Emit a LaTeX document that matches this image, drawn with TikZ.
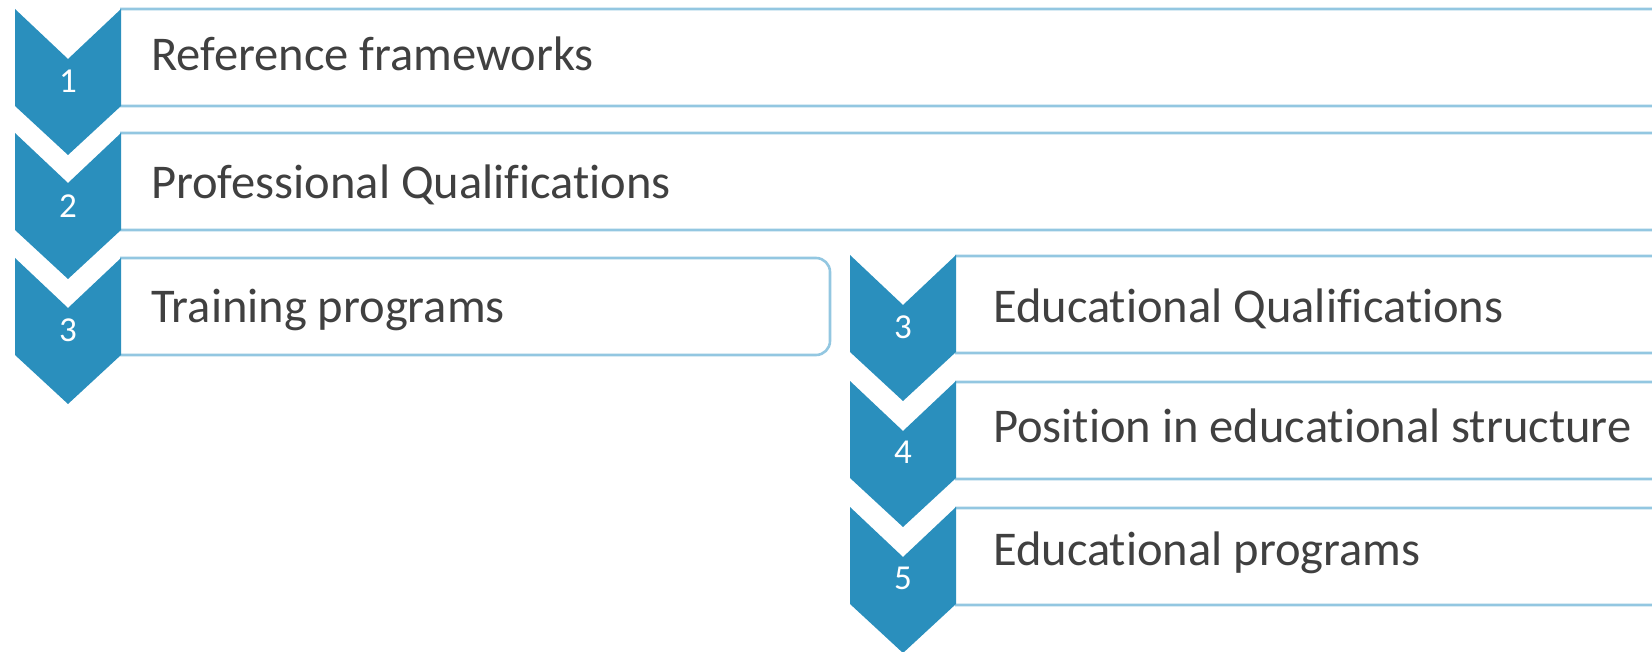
\documentclass[tikz,border=0pt]{standalone}
\usepackage{fontspec}
\setmainfont{Carlito}[Ligatures={NoCommon,NoRequired,NoContextual}]
\definecolor{chev}{HTML}{2A8FBD}
\definecolor{edgeblue}{HTML}{93C7E1}
\definecolor{txt}{HTML}{404040}
\newcommand\chevat[2]{%
  \fill[chev] (#1,#2) -- (#1+53,#2+50) -- (#1+106,#2) -- (#1+106,#2+97)
    -- (#1+53,#2+146) -- (#1,#2+97) -- cycle;}
\begin{document}
\begin{tikzpicture}[x=1pt,y=-1pt,
  boxline/.style={draw=edgeblue,line width=2.6pt,fill=white,rounded corners=14pt,
    anchor=north west,minimum height=97pt,inner sep=0pt,outer sep=0pt},
  digit/.style={text=white,font=\fontsize{35}{35}\selectfont,inner sep=0pt},
  itemtext/.style={text=txt,font=\fontsize{48.5}{48.5}\selectfont,anchor=base west,inner sep=0pt}]
\useasboundingbox (0,0) rectangle (1652,652);
\clip (0,0) rectangle (1652,652);
% left column boxes
\begin{scope}
\clip (120,0) rectangle (1700,652);
\node[boxline,minimum width=1700pt] (b1) at (80,9) {};
\node[boxline,minimum width=1700pt] (b2) at (80,133) {};
\node[boxline,minimum width=750pt] (b3) at (80,258) {};
\end{scope}
% right column boxes
\begin{scope}
\clip (955,0) rectangle (1700,652);
\node[boxline,minimum width=900pt] (r3) at (915,256) {};
\node[boxline,minimum width=900pt] (r4) at (915,382) {};
\node[boxline,minimum width=900pt] (r5) at (915,508) {};
\end{scope}
% chevrons
\chevat{15}{9}
\chevat{15}{133}
\chevat{15}{258}
\chevat{850}{255}
\chevat{850}{381}
\chevat{850}{507}
% digits
\node[digit] (n1) at (68,81) {1};
\node[digit] (n2) at (68,206) {2};
\node[digit] (n3) at (68,330) {3};
\node[digit] (m3) at (903,327) {3};
\node[digit] (m4) at (903,452) {4};
\node[digit] (m5) at (903,578) {5};
% texts
\node[itemtext] (t1) at (151,71) {Reference frameworks};
\node[itemtext] (t2) at (151,199) {Professional Qualifications};
\node[itemtext] (t3) at (151,323) {Training programs};
\node[itemtext] (s3) at (993,323) {Educational Qualifications};
\node[itemtext] (s4) at (993,442) {Position in educational structure};
\node[itemtext] (s5) at (993,565) {Educational programs};
\end{tikzpicture}
\end{document}
